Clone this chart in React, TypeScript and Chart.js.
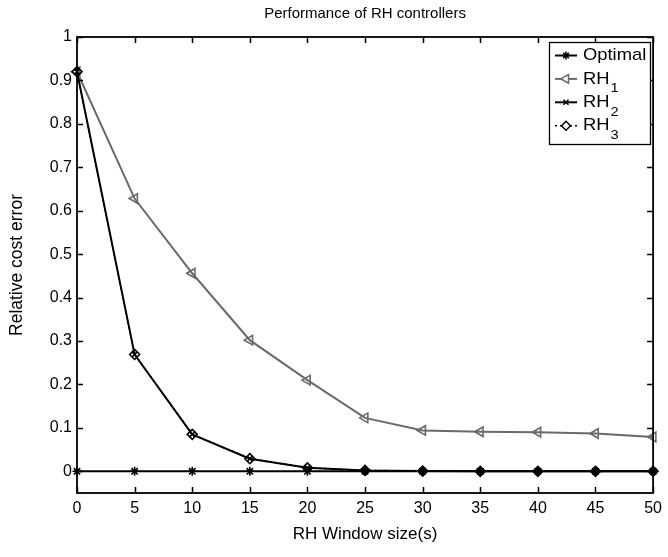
import { useEffect, useRef } from "react";
import { Chart, registerables } from "chart.js";
import { drawPoint } from "chart.js/helpers";

Chart.register(...registerables);

const chartTitle = "Performance of RH controllers";
const xAxisTitle = "RH Window size(s)";
const yAxisTitle = "Relative cost error";

const windowSizes = [0, 5, 10, 15, 20, 25, 30, 35, 40, 45, 50];
const optimal = [0, 0, 0, 0, 0, 0, 0, 0, 0, 0, 0];
const rh1 = [0.92, 0.628, 0.456, 0.302, 0.21, 0.123, 0.094, 0.091, 0.09, 0.087, 0.079];
const rh2 = [0.92, 0.269, 0.085, 0.029, 0.008, 0.002, 0.0005, 0, 0, 0, 0];
const rh3 = [0.92, 0.269, 0.085, 0.029, 0.008, 0.002, 0.0005, 0, 0, 0, 0];

const seriesLabels = ["Optimal", "RH1", "RH2", "RH3"];
const xTicks = [0, 5, 10, 15, 20, 25, 30, 35, 40, 45, 50];
const yTicks = [0, 0.1, 0.2, 0.3, 0.4, 0.5, 0.6, 0.7, 0.8, 0.9, 1];

const FONT = '"Liberation Sans", Arial, Helvetica, sans-serif';
const GREY = "#6a6a6a";

const toPoints = (ys: number[]) => windowSizes.map((x, i) => ({ x, y: ys[i] }));

const seriesStyles = [
  { color: "#000", pointStyle: "star", radius: 4.5, rotation: 0, dash: [] as number[], width: 2 },
  { color: GREY, pointStyle: "triangle", radius: 5.5, rotation: -90, dash: [] as number[], width: 2 },
  { color: "#000", pointStyle: "crossRot", radius: 4, rotation: 0, dash: [] as number[], width: 2 },
  { color: "#000", pointStyle: "rectRot", radius: 5, rotation: 0, dash: [2, 3], width: 1.6 },
];

const decorPlugin = {
  id: "matlabDecor",
  afterDraw(chart: any) {
    const { ctx, chartArea: a, scales } = chart;
    const xs = scales.x;
    const ys = scales.y;
    ctx.save();
    // frame
    ctx.strokeStyle = "#000";
    ctx.lineWidth = 1.8;
    ctx.setLineDash([]);
    ctx.strokeRect(a.left, a.top, a.right - a.left, a.bottom - a.top);
    // inward ticks
    ctx.lineWidth = 1.5;
    ctx.beginPath();
    for (const v of xTicks) {
      const px = Math.round(xs.getPixelForValue(v)) + 0.5;
      ctx.moveTo(px, a.bottom);
      ctx.lineTo(px, a.bottom - 6);
      ctx.moveTo(px, a.top);
      ctx.lineTo(px, a.top + 6);
    }
    for (const v of yTicks) {
      const py = Math.round(ys.getPixelForValue(v)) + 0.5;
      ctx.moveTo(a.left, py);
      ctx.lineTo(a.left + 6, py);
      ctx.moveTo(a.right, py);
      ctx.lineTo(a.right - 6, py);
    }
    ctx.stroke();

    // title
    ctx.fillStyle = "#000";
    ctx.font = `15px ${FONT}`;
    ctx.textAlign = "center";
    ctx.textBaseline = "middle";
    ctx.fillText(chartTitle, (a.left + a.right) / 2, 13.5);

    // legend
    const bx = 549.5, by = 42.5, bw = 101, bh = 102;
    ctx.fillStyle = "#fff";
    ctx.fillRect(bx, by, bw, bh);
    ctx.strokeStyle = "#000";
    ctx.lineWidth = 1.3;
    ctx.strokeRect(bx, by, bw, bh);
    seriesLabels.forEach((label, i) => {
      const st = seriesStyles[i];
      const y = 55.5 + i * 23.4;
      ctx.strokeStyle = st.color;
      ctx.lineWidth = st.width;
      ctx.setLineDash(st.dash);
      ctx.beginPath();
      ctx.moveTo(555, y);
      ctx.lineTo(577, y);
      ctx.stroke();
      ctx.setLineDash([]);
      ctx.lineWidth = 1.5;
      ctx.fillStyle = "#fff";
      drawPoint(ctx, { pointStyle: st.pointStyle, radius: st.radius - 0.5, rotation: st.rotation, borderWidth: 1.5 } as any, 566, y);
      ctx.fillStyle = "#000";
      ctx.textAlign = "left";
      ctx.textBaseline = "middle";
      const m = /^(RH)(\d)$/.exec(label);
      ctx.save();
      ctx.translate(583, y);
      ctx.scale(1.08, 1);
      ctx.font = `17px ${FONT}`;
      if (m) {
        ctx.fillText(m[1], 0, 0);
        const w = ctx.measureText(m[1]).width;
        ctx.font = `13.5px ${FONT}`;
        ctx.fillText(m[2], w + 1, 9.5);
      } else {
        ctx.fillText(label, 0, 0);
      }
      ctx.restore();
    });
    ctx.restore();
  },
};

export default function App() {
  const ref = useRef<HTMLCanvasElement | null>(null);
  useEffect(() => {
    if (!ref.current) return;
    const datasetsSrc = [optimal, rh1, rh2, rh3];
    const chart = new Chart(ref.current, {
      type: "line",
      data: {
        datasets: datasetsSrc.map((d, i) => {
          const st = seriesStyles[i];
          return {
            label: seriesLabels[i],
            data: toPoints(d),
            borderColor: st.color,
            borderWidth: st.width,
            borderDash: st.dash,
            pointStyle: st.pointStyle as any,
            pointRadius: st.radius,
            pointRotation: st.rotation,
            pointBorderColor: st.color,
            pointBorderWidth: 1.6,
            pointBackgroundColor:
              i === 3
                ? (c: any) => (c.parsed && c.parsed.y < 0.004 ? "#000" : "rgba(0,0,0,0)")
                : "rgba(0,0,0,0)",
            tension: 0,
            clip: false as any,
            order: 4 - i,
          };
        }),
      },
      options: {
        responsive: false,
        animation: false,
        layout: { padding: { top: 37, right: 10, left: 0, bottom: 0 } },
        plugins: {
          legend: { display: false },
          title: { display: false },
          tooltip: { enabled: false },
        },
        scales: {
          x: {
            type: "linear",
            min: 0,
            max: 50,
            grid: { display: false, drawTicks: false },
            border: { display: false },
            afterBuildTicks: (s: any) => {
              s.ticks = xTicks.map((v) => ({ value: v }));
            },
            afterFit: (s: any) => {
              s.height = 64;
            },
            ticks: {
              color: "#000",
              padding: 6,
              maxRotation: 0,
              autoSkip: false,
              font: { family: FONT, size: 16 },
              callback: (v: any) => String(v),
            },
            title: {
              display: true,
              text: xAxisTitle,
              color: "#000",
              font: { family: FONT, size: 17 },
              padding: { top: 0, bottom: 12 },
            },
          },
          y: {
            type: "linear",
            min: -0.05,
            max: 1,
            grid: { display: false, drawTicks: false },
            border: { display: false },
            afterBuildTicks: (s: any) => {
              s.ticks = yTicks.map((v) => ({ value: v }));
            },
            afterFit: (s: any) => {
              s.width = 77;
            },
            ticks: {
              color: "#000",
              padding: 5,
              autoSkip: false,
              font: { family: FONT, size: 16 },
              callback: (v: any) => String(+Number(v).toFixed(2)),
            },
            title: {
              display: true,
              text: yAxisTitle,
              color: "#000",
              font: { family: FONT, size: 17.5 },
              padding: { top: 7, bottom: 0 },
            },
          },
        },
      },
      plugins: [decorPlugin],
    });
    return () => chart.destroy();
  }, []);
  return (
    <div style={{ position: "fixed", left: 0, top: 0, width: 668, height: 557, background: "#fff" }}>
      <canvas ref={ref} width={668} height={557} />
    </div>
  );
}
